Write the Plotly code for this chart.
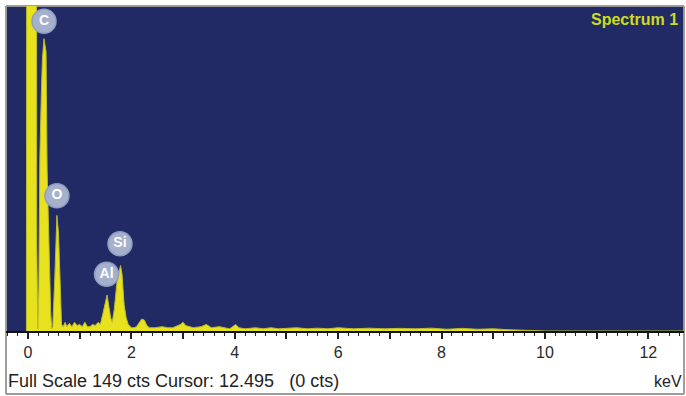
import plotly.graph_objects as go

# EDS spectrum: energy (keV) and counts
energy_kev = [
    -0.03, -0.01, 0.05, 0.12, 0.15, 0.17, 0.19,
    0.21, 0.23, 0.26, 0.28, 0.31, 0.35, 0.37, 0.40, 0.44, 0.46,
    0.48, 0.52, 0.56, 0.59, 0.63, 0.65,
    0.68, 0.72, 0.75, 0.80, 0.85, 0.90, 0.95, 1.00, 1.05, 1.10, 1.15, 1.20,
    1.25, 1.30, 1.36, 1.40, 1.45, 1.50, 1.53, 1.56, 1.60, 1.63,
    1.67, 1.72, 1.79, 1.82, 1.86, 1.90, 1.94,
    2.00, 2.05, 2.10, 2.15, 2.20, 2.25, 2.30, 2.35, 2.45, 2.60, 2.70, 2.80,
    2.95, 3.00, 3.05, 3.20, 3.35, 3.45, 3.55, 3.70, 3.80, 3.90, 4.02, 4.08,
    4.20, 4.40, 4.55, 4.70, 4.85, 5.00, 5.20, 5.40, 5.60, 5.80, 6.00, 6.30,
    6.60, 6.90, 7.20, 7.50, 7.80, 8.10, 8.40, 8.70, 9.00, 9.30, 9.60, 10.0,
    11.0, 12.0, 12.7,
]
counts = [
    0, 900, 900, 900, 600, 40, 1,
    20, 80, 110, 125, 134, 128, 74, 40, 8, 1,
    2, 25, 53, 45, 20, 3,
    2, 4, 2, 3.5, 2, 4, 2.5, 3, 2, 4, 2, 2,
    3, 2.5, 4, 3, 8, 14, 16.5, 12, 6, 4,
    10, 22, 30, 26, 12, 6, 3,
    1.5, 1.5, 2, 3.5, 5.5, 5, 2.5, 1.5, 1.5, 2, 1.5, 1.5,
    3, 4, 2.5, 1.5, 2, 3, 1.5, 2, 1.5, 1, 3, 1.5,
    1, 1.5, 1, 1.5, 1, 1.2, 1.5, 1, 1.3, 1, 1.5, 1,
    1.3, 1, 1.2, 1, 1.3, 0.8, 1.2, 0.8, 1, 0.6, 0.4, 0,
    0, 0, 0,
]

# Identified element lines: label, energy of peak, peak counts, badge height
elements = ["C", "O", "Al", "Si"]
element_kev = [0.31, 0.56, 1.52, 1.78]
element_peak = [134, 53, 16.5, 30]
badge_cts = [142, 62, 26, 40]

full_scale = 149
cursor_kev = 12.495
x_ticks = list(range(0, 13))
x_tick_text = [str(v) if v % 2 == 0 else "" for v in x_ticks]

NAVY = "#222A66"
YELLOW = "#E8E21E"
EDGE = "#B9BC2A"
BADGE = "#A4B0CC"
FONT = "Liberation Sans, Arial, sans-serif"
NBSP = "\u00a0"

fig = go.Figure()

fig.add_trace(go.Scatter(
    x=energy_kev, y=counts, mode="lines",
    line=dict(color=EDGE, width=1),
    fill="tozeroy", fillcolor=YELLOW,
    hoverinfo="skip", showlegend=False,
))

# cursor marker
fig.add_shape(type="line", xref="x", yref="y",
              x0=cursor_kev, x1=cursor_kev, y0=0, y1=full_scale,
              line=dict(color="#000000", width=1.5))

# stems from badges down to peak tops
badge_r = 5.0  # badge radius in counts
for kev, peak, b in zip(element_kev, element_peak, badge_cts):
    fig.add_shape(type="line", xref="x", yref="y",
                  x0=kev, x1=kev, y0=b - badge_r, y1=peak,
                  line=dict(color=BADGE, width=1.5))

fig.add_trace(go.Scatter(
    x=element_kev, y=badge_cts, mode="markers+text",
    text=[f"<b>{e}</b>" for e in elements], textposition="middle center",
    textfont=dict(family=FONT, size=14, color="#FFFFFF"),
    marker=dict(size=24, color=BADGE, line=dict(color="#8F9DC0", width=1.5)),
    hoverinfo="skip", showlegend=False, cliponaxis=False,
))

status = (f"Full Scale {full_scale} cts Cursor: {cursor_kev}"
          f"{NBSP}{NBSP}{NBSP}(0 cts)")

fig.update_layout(
    width=686, height=396,
    margin=dict(l=6, r=2, t=6, b=65),
    paper_bgcolor="#FFFFFF",
    plot_bgcolor=NAVY,
    font=dict(family=FONT, color="#333333"),
    xaxis=dict(
        range=[-0.425, 12.69], showgrid=False, zeroline=False,
        tickmode="array", tickvals=x_ticks, ticktext=x_tick_text,
        ticks="outside", ticklen=6, tickwidth=1.5, tickcolor="#222222",
        tickfont=dict(size=16, color="#2A2A2A"),
        showline=True, linecolor="#111111", linewidth=2,
        minor=dict(dtick=0.2, ticks="outside", ticklen=3, tickcolor="#222222", tickwidth=1),
        fixedrange=True,
    ),
    yaxis=dict(
        range=[0, full_scale], showgrid=False, zeroline=False,
        showticklabels=False, ticks="", fixedrange=True,
    ),
    annotations=[
        dict(text="<b>Spectrum 1</b>", xref="paper", yref="paper", x=0.994, y=0.992,
             xanchor="right", yanchor="top", showarrow=False,
             font=dict(size=16, color="#CBDD1E")),
        dict(text=status,
             xref="paper", yref="paper", x=0.0, y=-0.154,
             xanchor="left", yanchor="middle", showarrow=False,
             font=dict(size=18, color="#222222")),
        dict(text="keV", xref="paper", yref="paper", x=1.0, y=-0.154,
             xanchor="right", yanchor="middle", showarrow=False,
             font=dict(size=16, color="#222222")),
    ],
    shapes=[
        dict(type="rect", xref="paper", yref="paper", x0=0, x1=1, y0=-0.194,
             y1=1, line=dict(color="#9A9A9A", width=1), layer="below"),
    ],
)

fig.write_html("out.html")
